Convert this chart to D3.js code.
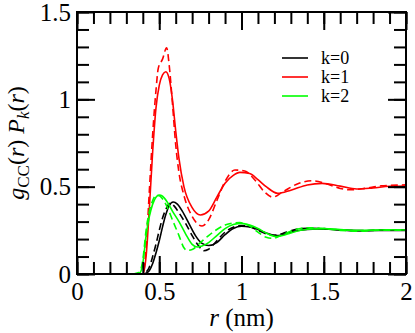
<!DOCTYPE html>
<html>
<head>
<meta charset="utf-8">
<script src="https://cdn.jsdelivr.net/npm/d3@7"></script>
<style>
  body { margin: 0; background: #fff; }
</style>
</head>
<body>
<svg></svg>
<script>
// r (nm) and g_CC(r) P_k(r)
const k0Solid = [[0.36,0],[0.40,0],[0.42,0.005],[0.44,0.02],[0.46,0.06],[0.48,0.12],[0.50,0.19],[0.52,0.27],[0.54,0.34],[0.56,0.39],[0.585,0.412],[0.61,0.40],[0.64,0.36],[0.68,0.29],[0.72,0.22],[0.76,0.175],[0.80,0.163],[0.85,0.18],[0.90,0.225],[0.95,0.26],[1.00,0.273],[1.05,0.27],[1.10,0.255],[1.15,0.235],[1.21,0.22],[1.25,0.225],[1.30,0.24],[1.40,0.255],[1.46,0.258],[1.55,0.255],[1.65,0.25],[1.75,0.248],[1.85,0.25],[2.0,0.25]];
const k0Dash = [[0.36,0],[0.40,0],[0.42,0.01],[0.44,0.04],[0.46,0.1],[0.48,0.17],[0.50,0.25],[0.52,0.32],[0.54,0.37],[0.565,0.405],[0.59,0.39],[0.62,0.35],[0.66,0.29],[0.70,0.22],[0.74,0.16],[0.77,0.133],[0.80,0.142],[0.85,0.19],[0.90,0.24],[0.95,0.268],[1.00,0.278],[1.05,0.27],[1.10,0.25],[1.15,0.23],[1.20,0.222],[1.25,0.232],[1.30,0.248],[1.40,0.262],[1.50,0.26],[1.60,0.252],[1.70,0.248],[1.80,0.25],[1.90,0.253],[2.0,0.252]];
const k1Solid = [[0.36,0],[0.40,0],[0.42,0.1],[0.44,0.38],[0.46,0.7],[0.48,0.95],[0.50,1.08],[0.52,1.14],[0.54,1.158],[0.56,1.12],[0.58,1.0],[0.60,0.82],[0.62,0.66],[0.65,0.5],[0.70,0.38],[0.75,0.338],[0.80,0.36],[0.85,0.44],[0.90,0.52],[0.95,0.565],[0.99,0.582],[1.05,0.575],[1.10,0.54],[1.15,0.5],[1.22,0.462],[1.30,0.48],[1.40,0.51],[1.49,0.519],[1.60,0.503],[1.70,0.487],[1.80,0.493],[1.90,0.502],[2.0,0.504]];
const k1Dash = [[0.36,0],[0.40,0],[0.42,0.15],[0.44,0.48],[0.46,0.8],[0.48,1.05],[0.494,1.177],[0.52,1.23],[0.545,1.295],[0.56,1.2],[0.58,0.98],[0.60,0.74],[0.62,0.58],[0.65,0.45],[0.70,0.33],[0.76,0.275],[0.80,0.31],[0.85,0.42],[0.90,0.53],[0.96,0.595],[1.02,0.59],[1.08,0.54],[1.14,0.47],[1.19,0.44],[1.25,0.47],[1.35,0.52],[1.43,0.534],[1.52,0.515],[1.60,0.49],[1.66,0.482],[1.75,0.49],[1.85,0.505],[2.0,0.51]];
const k2Solid = [[0.34,0],[0.38,0.005],[0.40,0.06],[0.42,0.22],[0.44,0.33],[0.46,0.4],[0.48,0.44],[0.50,0.452],[0.52,0.445],[0.55,0.41],[0.58,0.36],[0.62,0.3],[0.66,0.23],[0.70,0.17],[0.73,0.155],[0.76,0.16],[0.80,0.18],[0.85,0.22],[0.90,0.26],[0.95,0.283],[1.00,0.29],[1.05,0.28],[1.10,0.26],[1.15,0.235],[1.21,0.215],[1.25,0.22],[1.30,0.235],[1.40,0.256],[1.50,0.26],[1.60,0.254],[1.70,0.25],[1.80,0.251],[1.90,0.253],[2.0,0.252]];
const k2Dash = [[0.34,0],[0.38,0.01],[0.40,0.08],[0.42,0.25],[0.44,0.36],[0.46,0.42],[0.48,0.45],[0.50,0.448],[0.52,0.43],[0.55,0.38],[0.58,0.31],[0.62,0.22],[0.65,0.15],[0.67,0.135],[0.70,0.14],[0.75,0.18],[0.80,0.22],[0.85,0.255],[0.90,0.28],[0.95,0.292],[0.99,0.294],[1.05,0.275],[1.10,0.24],[1.15,0.21],[1.19,0.204],[1.25,0.225],[1.30,0.245],[1.40,0.265],[1.50,0.26],[1.60,0.25],[1.70,0.245],[1.80,0.249],[1.90,0.251],[2.0,0.25]];

const legendLabels = ["k=0", "k=1", "k=2"];
const colors = ["#000000", "#ff0000", "#00ff00"];
const xTicks = [0, 0.5, 1, 1.5, 2];
const yTicks = [0, 0.5, 1, 1.5];

const width = 415;
const height = 333;
const margin = { top: 12, left: 77, right: 9, bottom: 59 };
const font = "Liberation Serif";

const svg = d3.select("svg")
  .attr("width", width)
  .attr("height", height)
  .attr("font-family", font);

const x = d3.scaleLinear().domain([0, 2]).range([margin.left, width - margin.right]);
const y = d3.scaleLinear().domain([0, 1.5]).range([height - margin.bottom, margin.top]);

const line = d3.line()
  .x(d => x(d[0]))
  .y(d => y(d[1]))
  .curve(d3.curveMonotoneX);

const series = [
  { data: k0Solid, k: 0, dash: null },
  { data: k0Dash, k: 0, dash: "7,4" },
  { data: k1Solid, k: 1, dash: null },
  { data: k1Dash, k: 1, dash: "7,4" },
  { data: k2Solid, k: 2, dash: null },
  { data: k2Dash, k: 2, dash: "7,4" }
];

svg.append("g")
  .selectAll("path")
  .data(series)
  .join("path")
  .attr("d", d => line(d.data))
  .attr("fill", "none")
  .attr("stroke", d => colors[d.k])
  .attr("stroke-width", 1.6)
  .attr("stroke-dasharray", d => d.dash);

// axes, ticks inward on all four sides
const minorX = d3.range(0, 2.001, 0.1);
const minorY = d3.range(0, 1.501, 0.1);
const fmt = d => String(d);

function styleAxis(g) {
  g.attr("font-family", font);
  g.select(".domain").remove();
  g.selectAll(".tick line").attr("stroke", "#000").attr("stroke-width", 2);
  g.selectAll(".tick text")
    .attr("fill", "#000")
    .attr("font-size", 25)
    .attr("font-family", font);
}

const bottomY = y(0), topY = y(1.5), leftX = x(0), rightX = x(2);

svg.append("g").attr("transform", `translate(0,${bottomY})`)
  .call(d3.axisBottom(x).tickValues(minorX).tickSize(-12).tickFormat(""))
  .call(styleAxis);
svg.append("g").attr("transform", `translate(0,${bottomY})`)
  .call(d3.axisBottom(x).tickValues(xTicks).tickSizeInner(-18).tickSizeOuter(0).tickPadding(8).tickFormat(fmt))
  .call(styleAxis);
svg.append("g").attr("transform", `translate(0,${topY})`)
  .call(d3.axisTop(x).tickValues(minorX).tickSize(-12).tickFormat(""))
  .call(styleAxis);
svg.append("g").attr("transform", `translate(0,${topY})`)
  .call(d3.axisTop(x).tickValues(xTicks).tickSize(-18).tickFormat(""))
  .call(styleAxis);

svg.append("g").attr("transform", `translate(${leftX},0)`)
  .call(d3.axisLeft(y).tickValues(minorY).tickSize(-12).tickFormat(""))
  .call(styleAxis);
svg.append("g").attr("transform", `translate(${leftX},0)`)
  .call(d3.axisLeft(y).tickValues(yTicks).tickSizeInner(-18).tickSizeOuter(0).tickPadding(6).tickFormat(fmt))
  .call(styleAxis);
svg.append("g").attr("transform", `translate(${rightX},0)`)
  .call(d3.axisRight(y).tickValues(minorY).tickSize(-12).tickFormat(""))
  .call(styleAxis);
svg.append("g").attr("transform", `translate(${rightX},0)`)
  .call(d3.axisRight(y).tickValues(yTicks).tickSize(-18).tickFormat(""))
  .call(styleAxis);

svg.append("rect")
  .attr("x", leftX)
  .attr("y", topY)
  .attr("width", rightX - leftX)
  .attr("height", bottomY - topY)
  .attr("fill", "none")
  .attr("stroke", "#000")
  .attr("stroke-width", 2);

// axis titles
const xTitle = svg.append("text")
  .attr("x", (leftX + rightX) / 2)
  .attr("y", 326)
  .attr("text-anchor", "middle")
  .attr("font-family", font)
  .attr("font-size", 25);
xTitle.append("tspan").attr("font-style", "italic").text("r");
xTitle.append("tspan").text(" (nm)");

const yTitle = svg.append("text")
  .attr("transform", `translate(24,${(topY + bottomY) / 2}) rotate(-90)`)
  .attr("text-anchor", "middle")
  .attr("font-family", font)
  .attr("font-size", 24);
yTitle.append("tspan").attr("font-style", "italic").text("g");
yTitle.append("tspan").attr("font-size", 17).attr("dy", 5).text("CC");
yTitle.append("tspan").attr("dy", -5).text("(");
yTitle.append("tspan").attr("font-style", "italic").text("r");
yTitle.append("tspan").text(") ");
yTitle.append("tspan").attr("font-style", "italic").text("P");
yTitle.append("tspan").attr("font-style", "italic").attr("font-size", 17).attr("dy", 5).text("k");
yTitle.append("tspan").attr("dy", -5).text("(");
yTitle.append("tspan").attr("font-style", "italic").text("r");
yTitle.append("tspan").text(")");

// legend
const legend = svg.append("g")
  .selectAll("g")
  .data(legendLabels)
  .join("g")
  .attr("transform", (_, i) => `translate(282,${58 + i * 19})`);
legend.append("line")
  .attr("x1", 0).attr("x2", 26)
  .attr("stroke", (_, i) => colors[i])
  .attr("stroke-width", 1.6);
legend.append("text")
  .attr("x", 39)
  .attr("dy", "0.35em")
  .attr("font-family", font)
  .attr("font-size", 18)
  .text(d => d);
</script>
</body>
</html>
